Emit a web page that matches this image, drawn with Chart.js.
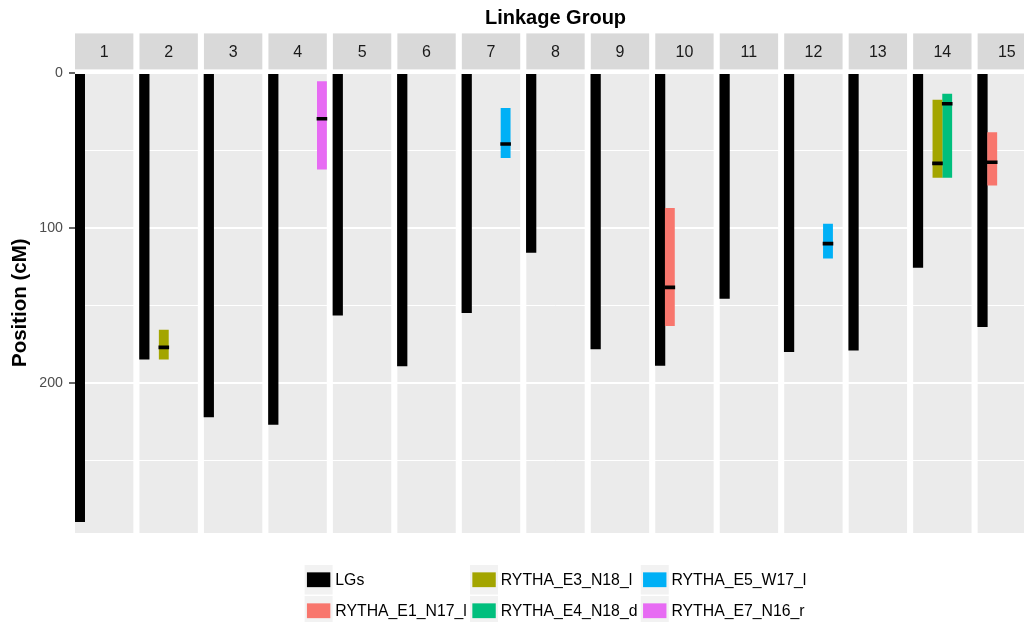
<!DOCTYPE html>
<html>
<head>
<meta charset="utf-8">
<script src="https://cdn.jsdelivr.net/npm/chart.js@4/dist/chart.umd.min.js"></script>
<style>
  html, body { margin: 0; padding: 0; background: #ffffff; overflow: hidden; width: 1024px; height: 622px; }
  #wrap { width: 1036px; height: 622px; }
  canvas { display: block; }
</style>
</head>
<body>
<div id="wrap"><canvas id="chart" width="1036" height="622"></canvas></div>
<script>
// Linkage groups and their lengths (cM)
const linkageGroups = ['1', '2', '3', '4', '5', '6', '7', '8', '9', '10', '11', '12', '13', '14', '15'];
const groupLengths = [289.3, 184.5, 221.7, 226.5, 156.1, 188.8, 154.5, 115.5, 177.9, 188.4, 145.2, 179.6, 178.7, 125.2, 163.5];

// Traits (legend entries) and their colours
const traits = ['LGs', 'RYTHA_E1_N17_l', 'RYTHA_E3_N18_l', 'RYTHA_E4_N18_d', 'RYTHA_E5_W17_l', 'RYTHA_E7_N16_r'];
const traitColors = ['#000000', '#F8766D', '#A3A500', '#00BF7D', '#00B0F6', '#E76BF3'];

// QTL intervals: trait, linkage group, interval start/end and peak position (cM)
const qtlTrait = ['RYTHA_E3_N18_l', 'RYTHA_E7_N16_r', 'RYTHA_E5_W17_l', 'RYTHA_E1_N17_l', 'RYTHA_E5_W17_l', 'RYTHA_E3_N18_l', 'RYTHA_E4_N18_d', 'RYTHA_E1_N17_l'];
const qtlGroup = ['2', '4', '7', '10', '12', '14', '14', '15'];
const qtlStart = [165.6, 5.4, 22.6, 87.1, 97.2, 17.2, 13.4, 38.3];
const qtlEnd = [184.5, 61.9, 54.5, 162.8, 119.2, 67.1, 67.1, 72.1];
const qtlPeak = [176.8, 29.3, 45.6, 138.1, 109.9, 58.1, 19.6, 57.4];

// Axis ticks
const yTickLabels = [0, 100, 200];
const yGridValues = [0, 50, 100, 150, 200, 250];

// Facet layout: one slot per trait inside each panel, panels separated by a small gap
const SLOTS = traits.length;
const PANEL_STEP = 6.627;
const FONT = '"Liberation Sans", Arial, Helvetica, sans-serif';

const slotX = (group, trait) => linkageGroups.indexOf(group) * PANEL_STEP + traits.indexOf(trait) + 0.5;

const datasets = [];

// Peak markers (drawn on top)
datasets.push({
  type: 'scatter',
  label: 'peak',
  order: 0,
  data: qtlPeak.map((p, i) => ({ x: slotX(qtlGroup[i], qtlTrait[i]), y: p })),
  pointStyle: 'line',
  radius: 5.3,
  borderWidth: 3.6,
  borderColor: '#000000',
  backgroundColor: '#000000'
});

// Linkage group bars
datasets.push({
  type: 'bar',
  label: traits[0],
  order: 2,
  data: linkageGroups.map((g, i) => ({ x: slotX(g, traits[0]), y: [0, groupLengths[i]] })),
  backgroundColor: traitColors[0],
  barThickness: 9.6,
  grouped: false,
  borderWidth: 0
});

// QTL interval bars, one dataset per trait
traits.slice(1).forEach((t, k) => {
  const pts = [];
  qtlTrait.forEach((qt, i) => {
    if (qt === t) pts.push({ x: slotX(qtlGroup[i], t), y: [qtlStart[i], qtlEnd[i]] });
  });
  datasets.push({
    type: 'bar',
    label: t,
    order: 1,
    data: pts,
    backgroundColor: traitColors[k + 1],
    barThickness: 9.2,
    grouped: false,
    borderWidth: 0
  });
});

// Panel backgrounds and strip headers
const facetPlugin = {
  id: 'facets',
  beforeDraw(chart) {
    const { ctx, chartArea: a, scales: { x } } = chart;
    ctx.save();
    linkageGroups.forEach((g, i) => {
      const x0 = x.getPixelForValue(i * PANEL_STEP);
      const x1 = x.getPixelForValue(i * PANEL_STEP + SLOTS);
      ctx.fillStyle = '#EBEBEB';
      ctx.fillRect(x0, a.top, x1 - x0, a.bottom - a.top);
      ctx.fillStyle = '#D9D9D9';
      ctx.fillRect(x0, a.top - 39, x1 - x0, 36);
      ctx.fillStyle = '#1A1A1A';
      ctx.font = '16px ' + FONT;
      ctx.textAlign = 'center';
      ctx.textBaseline = 'middle';
      ctx.fillText(g, (x0 + x1) / 2, a.top - 19.5);
    });
    ctx.restore();
  }
};

// Legend laid out in columns, two rows, below the panels
const legendPlugin = {
  id: 'columnLegend',
  afterDraw(chart) {
    const { ctx, chartArea: a, scales: { x } } = chart;
    const KEY_W = 28, KEY_H = 29.5, GAP = 2.7, COL_GAP = 3.3, ROW_STEP = 31;
    const rows = 2, cols = Math.ceil(traits.length / rows);
    ctx.save();
    ctx.font = '15.8px ' + FONT;
    const colWidths = [];
    for (let c = 0; c < cols; c++) {
      let w = 0;
      for (let r = 0; r < rows; r++) {
        const idx = c * rows + r;
        if (idx < traits.length) w = Math.max(w, ctx.measureText(traits[idx]).width);
      }
      colWidths.push(KEY_W + GAP + w);
    }
    const total = colWidths.reduce((s, w) => s + w, 0) + COL_GAP * (cols - 1);
    let cx = (x.left + x.right) / 2 - total / 2;
    const firstRowTop = a.bottom + 32;
    for (let c = 0; c < cols; c++) {
      for (let r = 0; r < rows; r++) {
        const idx = c * rows + r;
        if (idx >= traits.length) continue;
        const top = firstRowTop + r * ROW_STEP;
        ctx.fillStyle = '#F2F2F2';
        ctx.fillRect(cx, top, KEY_W, KEY_H);
        ctx.fillStyle = traitColors[idx];
        ctx.fillRect(cx + 2.3, top + KEY_H / 2 - 7.4, KEY_W - 4.6, 14.8);
        ctx.fillStyle = '#000000';
        ctx.textAlign = 'left';
        ctx.textBaseline = 'middle';
        ctx.fillText(traits[idx], cx + KEY_W + GAP, top + KEY_H / 2 + 0.5);
      }
      cx += colWidths[c] + COL_GAP;
    }
    ctx.restore();
  }
};

new Chart(document.getElementById('chart'), {
  type: 'bar',
  data: { datasets },
  options: {
    responsive: false,
    animation: false,
    devicePixelRatio: 1,
    layout: { autoPadding: false, padding: { left: 0, top: 0, right: 0, bottom: 89 } },
    plugins: { legend: { display: false }, tooltip: { enabled: false } },
    scales: {
      x: {
        type: 'linear',
        position: 'top',
        offset: false,
        min: 0,
        max: (linkageGroups.length - 1) * PANEL_STEP + SLOTS,
        ticks: { display: false },
        grid: { display: false, offset: false },
        border: { display: false },
        afterFit(s) { s.height = 72.4; },
        title: {
          display: true,
          text: 'Linkage Group',
          color: '#000000',
          font: { family: FONT, size: 20, weight: 'bold' },
          padding: { top: 6, bottom: 0 }
        }
      },
      y: {
        type: 'linear',
        reverse: true,
        min: -0.6,
        max: 296.6,
        afterBuildTicks(s) { s.ticks = yGridValues.map(v => ({ value: v })); },
        afterFit(s) { s.width = 75; },
        ticks: {
          callback: v => (yTickLabels.includes(v) ? String(v) : ''),
          color: '#4D4D4D',
          font: { family: FONT, size: 14.2 },
          padding: 6
        },
        grid: {
          color: '#FFFFFF',
          lineWidth: c => (yTickLabels.includes(c.tick && c.tick.value) ? 2 : 1),
          tickLength: 6,
          tickWidth: 1.5,
          tickColor: c => (yTickLabels.includes(c.tick && c.tick.value) ? '#333333' : 'rgba(0,0,0,0)')
        },
        border: { display: false },
        title: {
          display: true,
          text: 'Position (cM)',
          color: '#000000',
          font: { family: FONT, size: 20.5, weight: 'bold' },
          padding: { top: 8, bottom: 0 }
        }
      }
    }
  },
  plugins: [facetPlugin, legendPlugin]
});
</script>
</body>
</html>
